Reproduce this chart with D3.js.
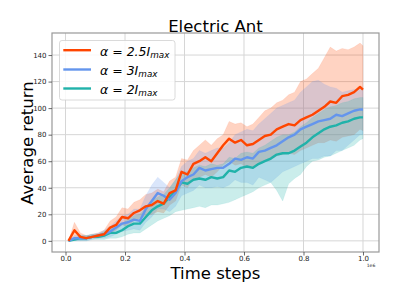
<!DOCTYPE html>
<html><head><meta charset="utf-8">
<script src="https://cdn.jsdelivr.net/npm/d3@7"></script>
<style>html,body{margin:0;padding:0;background:#fff;}svg{display:block;font-family:"DejaVu Sans",sans-serif;}</style>
</head><body><svg id="c" width="399" height="299"></svg>
<script>
const steps = [0.01,0.03,0.05,0.07,0.09,0.11,0.13,0.15,0.17,0.19,0.21,0.23,0.25,0.27,0.29,0.31,0.33,0.35,0.37,0.39,0.41,0.43,0.45,0.47,0.49,0.51,0.53,0.55,0.57,0.59,0.61,0.63,0.65,0.67,0.69,0.71,0.73,0.75,0.77,0.79,0.81,0.83,0.85,0.87,0.89,0.91,0.93,0.95,0.97,0.99,1.00];
const seriesNames = ["2.5", "3", "2"];
const meanA = [0,8,3,2,3,4,5,10,12,18,17,21,23,26,27,30,28,36,38,52,50,58,60,63,60,66,72,77,74,76,72,73,76,79,80,84,86,88,87,91,93,95,98,101,105,104,109,110,112,116,114];
const hiA   = [0,14,6,4,5,6,8,15,18,25,24,29,31,35,36,39,37,45,48,62,61,68,72,76,72,77,80,90,88,89,86,88,93,98,100,104,106,110,112,120,122,126,130,138,146,143,145,144,146,149,147];
const loA   = [0,3,1,1,2,2,3,6,8,12,11,15,17,19,20,22,21,27,30,42,40,47,48,50,48,52,57,60,57,58,55,56,58,60,61,64,65,66,65,68,70,72,74,74,76,75,78,79,80,84,83];
const meanB = [0,2,2,2,3,4,5,7,10,13,14,16,15,24,30,36,34,31,36,45,48,50,55,53,54,55,55,58,62,61,63,62,67,68,70,72,75,78,80,84,86,88,90,91,92,95,94,96,98,99,99];
const hiB   = [0,4,4,4,5,6,8,11,15,19,20,24,24,34,42,48,44,40,46,56,60,62,68,66,68,70,70,74,80,82,84,83,88,92,96,100,102,104,106,112,116,120,121,118,116,115,112,113,114,115,115];
const loB   = [0,0,0,0,1,2,2,3,5,7,8,9,8,14,18,24,24,22,26,34,36,38,42,40,40,41,40,42,46,44,44,42,48,46,44,48,52,54,56,58,60,62,62,64,64,68,68,72,76,80,80];
const meanC = [0,1,2,2,3,3,4,6,6,8,11,13,13,18,23,26,28,33,38,44,43,46,47,46,48,47,48,53,52,55,56,55,58,60,62,65,66,66,68,71,74,78,81,84,86,87,89,90,92,93,93];
const hiC   = [0,2,4,4,5,5,7,10,10,13,16,19,20,25,30,33,35,40,46,52,52,55,57,56,58,57,58,63,62,66,67,66,70,72,75,78,80,80,82,86,89,93,96,99,101,102,104,105,107,108,108];
const loC   = [0,0,0,0,1,1,1,2,2,3,5,6,6,9,12,15,17,19,22,23,24,25,26,25,27,27,28,29,31,33,35,37,40,42,44,38,30,43,47,50,56,60,61,63,64,66,68,70,72,76,77];
const xTicks = [0.0,0.2,0.4,0.6,0.8,1.0];
const yTicks = [0,20,40,60,80,100,120,140];
const colors = ["#FF4500","#6495ED","#20B2AA"];

const svg = d3.select("#c");
const x = d3.scaleLinear().domain([-0.0454, 1.0538]).range([52, 379]);
const y = d3.scaleLinear().domain([-8.4, 156.6]).range([252, 33]);

// grid
const g = svg.append("g");
g.selectAll(".gx").data(xTicks).enter().append("line")
  .attr("x1", d=>x(d)).attr("x2", d=>x(d)).attr("y1", 33).attr("y2", 252)
  .attr("stroke", "#d6d6d6").attr("stroke-width", 1);
g.selectAll(".gy").data(yTicks).enter().append("line")
  .attr("x1", 52).attr("x2", 379).attr("y1", d=>y(d)).attr("y2", d=>y(d))
  .attr("stroke", "#d6d6d6").attr("stroke-width", 1);

const sets = [
  {mean: meanA, hi: hiA, lo: loA, c: colors[0]},
  {mean: meanB, hi: hiB, lo: loB, c: colors[1]},
  {mean: meanC, hi: hiC, lo: loC, c: colors[2]}
];
const area = d3.area().x((d,i)=>x(steps[i])).y0(d=>y(d[0])).y1(d=>y(d[1]));
const line = d3.line().x((d,i)=>x(steps[i])).y(d=>y(d));
const plot = svg.append("g");
sets.forEach(s => {
  plot.append("path").datum(s.lo.map((v,i)=>[v, s.hi[i]]))
    .attr("d", area).attr("fill", s.c).attr("fill-opacity", 0.24).attr("stroke", s.c).attr("stroke-opacity", 0.15).attr("stroke-width", 0.5);
});
[2,1,0].forEach(k => {
  plot.append("path").datum(sets[k].mean).attr("d", line)
    .attr("fill", "none").attr("stroke", sets[k].c).attr("stroke-width", 2.4).attr("stroke-linejoin", "round");
});

// frame
svg.append("rect").attr("x", 52).attr("y", 33).attr("width", 327).attr("height", 219)
  .attr("fill", "none").attr("stroke", "#999").attr("stroke-width", 1.2);

// axes
const xa = svg.append("g").attr("transform", "translate(0,252)")
  .call(d3.axisBottom(x).tickValues(xTicks).tickFormat(d3.format(".1f")).tickSize(3.5).tickPadding(1));
const ya = svg.append("g").attr("transform", "translate(52,0)")
  .call(d3.axisLeft(y).tickValues(yTicks).tickFormat(d3.format("d")).tickSize(3.5).tickPadding(2));
[xa, ya].forEach(a => {
  a.select(".domain").remove();
  a.selectAll(".tick line").attr("stroke", "#444").attr("stroke-width", 0.8);
  a.selectAll(".tick text").attr("font-family", "DejaVu Sans").attr("font-size", 7).attr("fill", "#222");
});

svg.append("text").attr("x", 371).attr("y", 267).attr("text-anchor", "middle")
  .attr("font-size", 4.5).attr("fill", "#222").text("1e6");

// titles
svg.append("text").attr("x", 215.5).attr("y", 31.5).attr("text-anchor", "middle")
  .attr("font-size", 16.5).attr("fill", "#000").text("Electric Ant");
svg.append("text").attr("x", 215.5).attr("y", 278.5).attr("text-anchor", "middle")
  .attr("font-size", 16.5).attr("fill", "#000").text("Time steps");
svg.append("text").attr("transform", "translate(32.5,143) rotate(-90)").attr("text-anchor", "middle")
  .attr("font-size", 16.5).attr("fill", "#000").text("Average return");

// legend
const leg = svg.append("g");
leg.append("rect").attr("x", 59.5).attr("y", 40.5).attr("width", 115.5).attr("height", 59.5).attr("rx", 2.5)
  .attr("fill", "#fff").attr("fill-opacity", 0.85).attr("stroke", "#d0d0d0").attr("stroke-width", 0.8);
const rowsY = [55.5, 74.8, 93.8];
seriesNames.forEach((nm, i) => {
  leg.append("line").attr("x1", 63.3).attr("x2", 91).attr("y1", rowsY[i]-5.3).attr("y2", rowsY[i]-5.3)
    .attr("stroke", colors[i]).attr("stroke-width", 2.4);
  const t = leg.append("text").attr("x", 100).attr("y", rowsY[i]).attr("font-size", 12.5).attr("fill", "#000");
  t.append("tspan").attr("font-style", "italic").text("α");
  t.append("tspan").text(" = ");
  t.append("tspan").attr("font-style", "italic").text(nm + "I");
  t.append("tspan").attr("font-style", "italic").attr("font-size", 8.8).attr("dy", 2.5).text("max");
});
</script></body></html>
